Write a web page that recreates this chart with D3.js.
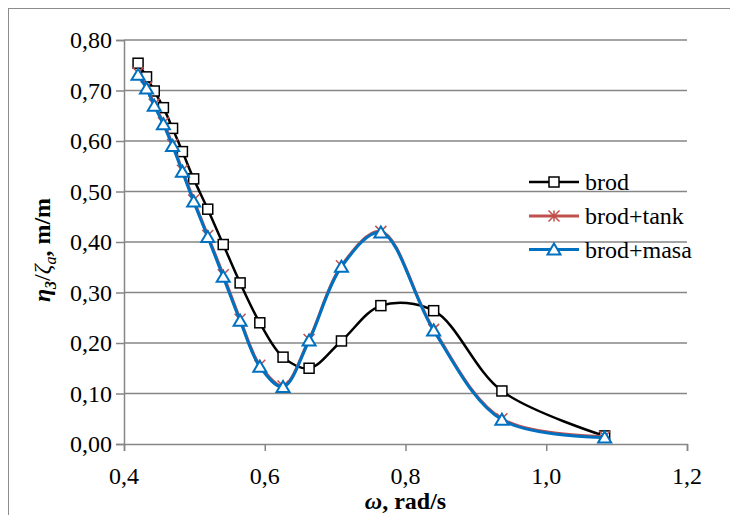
<!DOCTYPE html>
<html>
<head>
<meta charset="utf-8">
<script src="https://cdn.jsdelivr.net/npm/d3@7"></script>
<style>
  body { margin: 0; font-family: serif; }
</style>
</head>
<body>
<svg id="fig" width="730" height="515" font-family="serif"></svg>
<script>
// ---- data ----
const omega = [0.420, 0.432, 0.443, 0.456, 0.469, 0.483, 0.499, 0.519, 0.541, 0.565, 0.593, 0.626, 0.663, 0.709, 0.765, 0.840, 0.937, 1.083];
const brod = [0.754, 0.727, 0.699, 0.666, 0.625, 0.579, 0.525, 0.465, 0.395, 0.319, 0.240, 0.172, 0.150, 0.204, 0.274, 0.264, 0.105, 0.016];
const brodTank = [0.735, 0.707, 0.673, 0.636, 0.593, 0.542, 0.483, 0.413, 0.335, 0.247, 0.156, 0.115, 0.207, 0.353, 0.421, 0.227, 0.050, 0.015];
const brodMasa = [0.731, 0.704, 0.670, 0.633, 0.590, 0.539, 0.480, 0.410, 0.331, 0.244, 0.153, 0.113, 0.205, 0.351, 0.419, 0.225, 0.048, 0.013];
const seriesNames = ["brod", "brod+tank", "brod+masa"];
const xTicks = [0.4, 0.6, 0.8, 1.0, 1.2];
const yTicks = [0.0, 0.1, 0.2, 0.3, 0.4, 0.5, 0.6, 0.7, 0.8];

const FONT = "serif";

const series = [
  { name: seriesNames[0], values: brod, color: "#000000", marker: "square", width: 2.5 },
  { name: seriesNames[1], values: brodTank, color: "#C0504D", marker: "star", width: 3 },
  { name: seriesNames[2], values: brodMasa, color: "#0070C0", marker: "triangle", width: 3 }
];

const svg = d3.select("#fig");
const L = 124, R = 687, T = 40, B = 444;
const x = d3.scaleLinear().domain([0.4, 1.2]).range([L, R]);
const y = d3.scaleLinear().domain([0, 0.8]).range([B, T]);
const gridColor = "#868686";
const fmt = (d, n) => d.toFixed(n).replace(".", ",");

// outer border
svg.append("rect").attr("x", 8.5).attr("y", 8.5).attr("width", 800).attr("height", 600)
  .attr("fill", "none").attr("stroke", "#8c8c8c").attr("stroke-width", 1);

// gridlines
svg.append("g").selectAll("line").data(yTicks.filter(d => d > 0)).join("line")
  .attr("x1", L).attr("x2", R).attr("y1", d => y(d)).attr("y2", d => y(d))
  .attr("stroke", gridColor).attr("stroke-width", 1.5);

// axes
const yAxis = svg.append("g").attr("transform", `translate(${L},0)`)
  .call(d3.axisLeft(y).tickValues(yTicks).tickSize(8).tickFormat(""));
const xAxis = svg.append("g").attr("transform", `translate(0,${B})`)
  .call(d3.axisBottom(x).tickValues(xTicks).tickSize(7).tickFormat(""));
[yAxis, xAxis].forEach(g => {
  g.attr("font-family", FONT);
  g.select(".domain").attr("stroke", gridColor).attr("stroke-width", 1.5);
  g.selectAll(".tick line").attr("stroke", gridColor).attr("stroke-width", 1.5);
  g.selectAll(".tick text").remove();
});
svg.append("g").selectAll("text").data(yTicks).join("text")
  .attr("x", L - 12).attr("y", d => y(d) + 8).attr("text-anchor", "end")
  .attr("font-family", FONT).attr("font-size", 24).text(d => fmt(d, 2));
svg.append("g").selectAll("text").data(xTicks).join("text")
  .attr("x", d => x(d)).attr("y", B + 40).attr("text-anchor", "middle")
  .attr("font-family", FONT).attr("font-size", 24).text(d => fmt(d, 1));

// lines
const line = d3.line().x((d, i) => x(omega[i])).y(d => y(d)).curve(d3.curveCatmullRom.alpha(0.5));
function drawMarker(g, type, color, cx, cy) {
  if (type === "square") {
    g.append("rect").attr("x", cx - 5).attr("y", cy - 5).attr("width", 10).attr("height", 10)
      .attr("fill", "#fff").attr("stroke", color).attr("stroke-width", 1.5);
  } else if (type === "star") {
    const s = 5.5;
    g.append("path").attr("d", `M${cx - s},${cy - s}L${cx + s},${cy + s}M${cx - s},${cy + s}L${cx + s},${cy - s}M${cx},${cy - s}L${cx},${cy + s}`)
      .attr("stroke", color).attr("stroke-width", 1.5).attr("fill", "none");
  } else {
    g.append("path").attr("d", `M${cx},${cy - 6}L${cx + 6.5},${cy + 5}L${cx - 6.5},${cy + 5}Z`)
      .attr("fill", "#fff").attr("stroke", color).attr("stroke-width", 2);
  }
}
series.forEach(s => {
  const g = svg.append("g");
  g.append("path").datum(s.values).attr("d", line).attr("fill", "none")
    .attr("stroke", s.color).attr("stroke-width", s.width);
  s.values.forEach((v, i) => drawMarker(g, s.marker, s.color, x(omega[i]), y(v)));
});

// legend
const legY = [182, 216, 249.5];
series.forEach((s, i) => {
  const g = svg.append("g");
  g.append("line").attr("x1", 529).attr("x2", 579).attr("y1", legY[i]).attr("y2", legY[i])
    .attr("stroke", s.color).attr("stroke-width", s.width);
  drawMarker(g, s.marker, s.color, 554, legY[i]);
  g.append("text").attr("x", 585).attr("y", legY[i] + 8).attr("font-family", FONT).attr("font-size", 24).text(s.name);
});

// x title
const xt = svg.append("text").attr("x", (L + R) / 2).attr("y", 509).attr("text-anchor", "middle")
  .attr("font-family", FONT).attr("font-size", 24).attr("font-weight", "bold");
xt.append("tspan").attr("font-style", "italic").text("ω");
xt.append("tspan").text(", rad/s");

// y title
const yt = svg.append("text").attr("transform", `translate(50,${(T + B) / 2 + 8}) rotate(-90)`)
  .attr("text-anchor", "middle").attr("font-family", FONT).attr("font-size", 24).attr("font-weight", "bold");
yt.append("tspan").attr("font-style", "italic").text("η");
yt.append("tspan").attr("font-style", "italic").attr("font-size", 16).attr("dy", 6).text("3");
yt.append("tspan").attr("dy", -6).attr("font-weight", "normal").text("/");
yt.append("tspan").attr("font-style", "italic").attr("font-weight", "normal").text("ζ");
yt.append("tspan").attr("font-style", "italic").attr("font-weight", "normal").attr("font-size", 16).attr("dy", 6).text("a");
yt.append("tspan").attr("dy", -6).text(", m/m");
</script>
</body>
</html>
